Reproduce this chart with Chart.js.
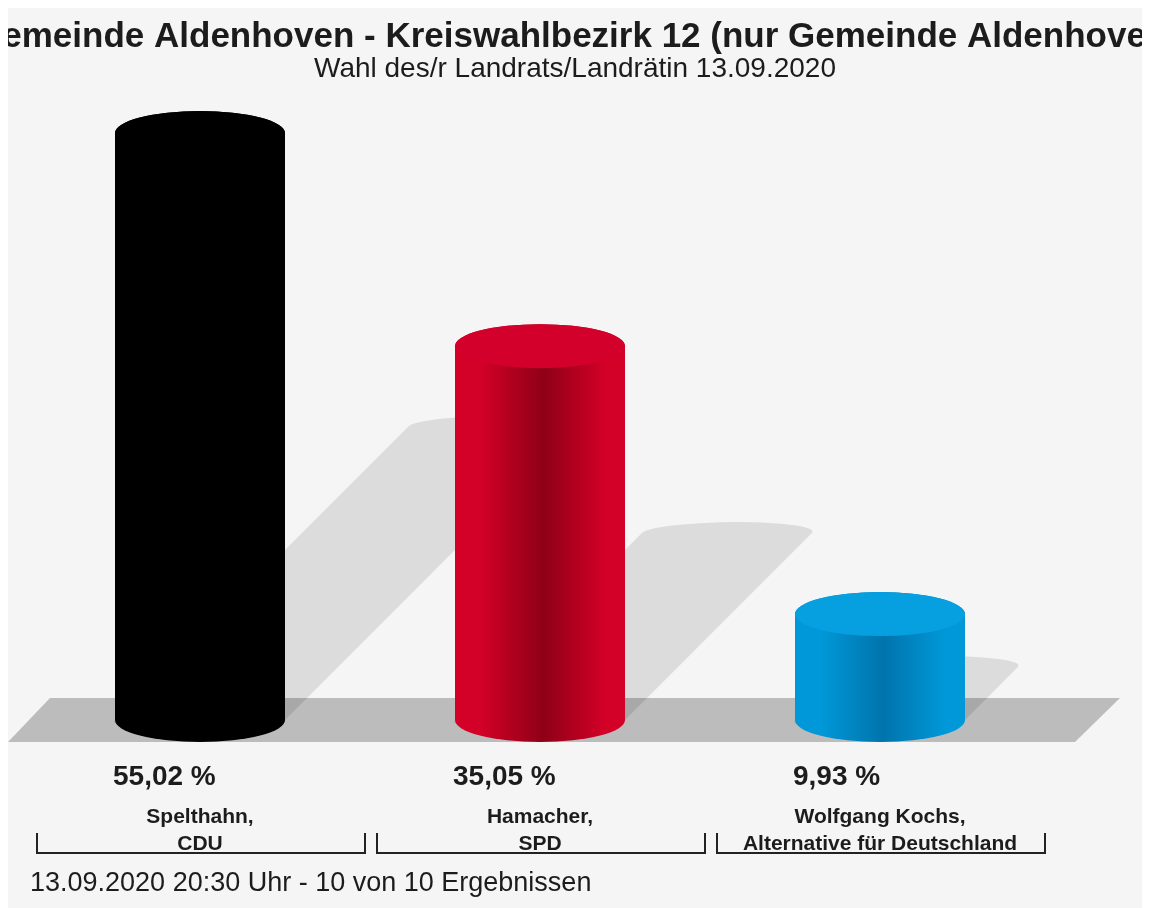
<!DOCTYPE html>
<html lang="de">
<head>
<meta charset="utf-8">
<title>Landratswahl 2020 – Aldenhoven</title>
<script src="https://cdn.jsdelivr.net/npm/chart.js@4.4.1/dist/chart.umd.min.js"></script>
<style>
  html, body { margin: 0; padding: 0; background: #ffffff; }
  #wrap { position: absolute; left: 8px; top: 8px; width: 1134px; height: 900px; background: #f5f5f5; }
  canvas { display: block; }
</style>
</head>
<body>
<div id="wrap"><canvas id="chart" width="1134" height="900"></canvas></div>
<script>
// Wahl des/r Landrats/Landrätin 13.09.2020 – Kreiswahlbezirk 12, Aldenhoven

const TITLE = "Gemeinde Aldenhoven - Kreiswahlbezirk 12 (nur Gemeinde Aldenhoven)";
const SUBTITLE = "Wahl des/r Landrats/Landrätin 13.09.2020";
const FOOTER = "13.09.2020 20:30 Uhr - 10 von 10 Ergebnissen";

const candidates = [
  ["Spelthahn,", "CDU"],
  ["Hamacher,", "SPD"],
  ["Wolfgang Kochs,", "Alternative für Deutschland"]
];
const shares = [55.02, 35.05, 9.93];
const axisMax = 60;

// cylinder colours: edge, darker middle stripe, lid
const CYL = [
  { edge: "#000000", dark: "#000000", top: "#000000" },
  { edge: "#d30028", dark: "#8e0016", top: "#d2002a" },
  { edge: "#0098d8", dark: "#0074ac", top: "#069fe0" }
];
const FONT = '"Liberation Sans", Arial, Helvetica, sans-serif';
const TEXT = "#1c1c1c";

const fmtShare = (v) => v.toFixed(2).replace(".", ",") + " %";

function cylinderPath(ctx, cx, top, base, rx, ry) {
  ctx.beginPath();
  ctx.moveTo(cx - rx, top);
  ctx.lineTo(cx - rx, base);
  ctx.ellipse(cx, base, rx, ry, 0, Math.PI, 0, true);
  ctx.lineTo(cx + rx, top);
  ctx.ellipse(cx, top, rx, ry, 0, 0, Math.PI, true);
  ctx.closePath();
}

const cylinderPlugin = {
  id: "cylinders",
  beforeDatasetsDraw(chart) {
    const { ctx, chartArea: a } = chart;
    const base = chart.scales.y.getPixelForValue(0);
    const ry = 22;

    // floor
    ctx.save();
    ctx.fillStyle = "#bcbcbc";
    ctx.beginPath();
    ctx.moveTo(a.left - 22, base + ry);
    ctx.lineTo(a.left + 20, base - ry);
    ctx.lineTo(a.right + 70, base - ry);
    ctx.lineTo(a.right + 25, base + ry);
    ctx.closePath();
    ctx.fill();
    ctx.restore();

    // shadows: cylinder squashed to half height and sheared back at 45°
    const k = 0.5;
    chart.getDatasetMeta(0).data.forEach((bar) => {
      const rx = bar.width / 2;
      ctx.save();
      ctx.transform(1, 0, -k, k, k * base, (1 - k) * base);
      cylinderPath(ctx, bar.x, bar.y, base, rx, ry);
      ctx.fillStyle = "rgba(0,0,0,0.1)";
      ctx.fill();
      ctx.restore();
    });
  },
  afterDatasetsDraw(chart) {
    const { ctx } = chart;
    const ry = 22;
    chart.getDatasetMeta(0).data.forEach((bar, i) => {
      const c = CYL[i];
      const rx = bar.width / 2;
      const g = ctx.createLinearGradient(bar.x - rx, 0, bar.x + rx, 0);
      g.addColorStop(0, c.edge);
      g.addColorStop(0.15, c.edge);
      g.addColorStop(0.52, c.dark);
      g.addColorStop(0.88, c.edge);
      g.addColorStop(1, c.edge);
      ctx.save();
      cylinderPath(ctx, bar.x, bar.y, bar.base, rx, ry);
      ctx.fillStyle = g;
      ctx.fill();
      ctx.beginPath();
      ctx.ellipse(bar.x, bar.y, rx, ry, 0, 0, Math.PI * 2);
      ctx.fillStyle = c.top;
      ctx.fill();
      ctx.restore();
    });
  },
  afterDraw(chart) {
    const { ctx, chartArea: a, width } = chart;
    const x = chart.scales.x;
    const base = a.bottom;
    const half = (x.getPixelForValue(1) - x.getPixelForValue(0)) / 2;
    ctx.save();
    ctx.fillStyle = TEXT;
    ctx.textBaseline = "alphabetic";

    // title + subtitle, centred on the whole picture (title runs past the edges)
    ctx.textAlign = "center";
    ctx.font = "bold 35px " + FONT;
    ctx.fillText(TITLE, width / 2 + 2, 39);
    ctx.font = "28px " + FONT;
    ctx.fillText(SUBTITLE, width / 2, 69);

    chart.getDatasetMeta(0).data.forEach((bar, i) => {
      const cx = bar.x;
      ctx.textAlign = "left";
      ctx.font = "bold 28px " + FONT;
      ctx.fillText(fmtShare(shares[i]), cx - bar.width / 2 - 2, base + 65);

      ctx.textAlign = "center";
      ctx.font = "bold 21px " + FONT;
      ctx.fillText(candidates[i][0], cx, base + 103);
      ctx.fillText(candidates[i][1], cx, base + 130);

      // bracket under each category
      const l = cx - half + 7, r = cx + half - 5;
      ctx.strokeStyle = "#222";
      ctx.lineWidth = 2;
      ctx.beginPath();
      ctx.moveTo(l, base + 113);
      ctx.lineTo(l, base + 133);
      ctx.lineTo(r, base + 133);
      ctx.lineTo(r, base + 113);
      ctx.stroke();
    });

    ctx.textAlign = "left";
    ctx.font = "27px " + FONT;
    ctx.fillText(FOOTER, a.left, base + 171);
    ctx.restore();
  }
};

new Chart(document.getElementById("chart"), {
  type: "bar",
  data: {
    labels: candidates,
    datasets: [{
      data: shares,
      backgroundColor: "rgba(0,0,0,0)",
      barPercentage: 0.5,
      categoryPercentage: 1
    }]
  },
  options: {
    responsive: false,
    animation: false,
    devicePixelRatio: 1,
    layout: { padding: { top: 72, bottom: 188, left: 22, right: 92 } },
    scales: {
      x: { display: false },
      y: { display: false, min: 0, max: axisMax }
    },
    plugins: {
      legend: { display: false },
      tooltip: { enabled: false },
      title: { display: false }
    }
  },
  plugins: [cylinderPlugin]
});
</script>
</body>
</html>
